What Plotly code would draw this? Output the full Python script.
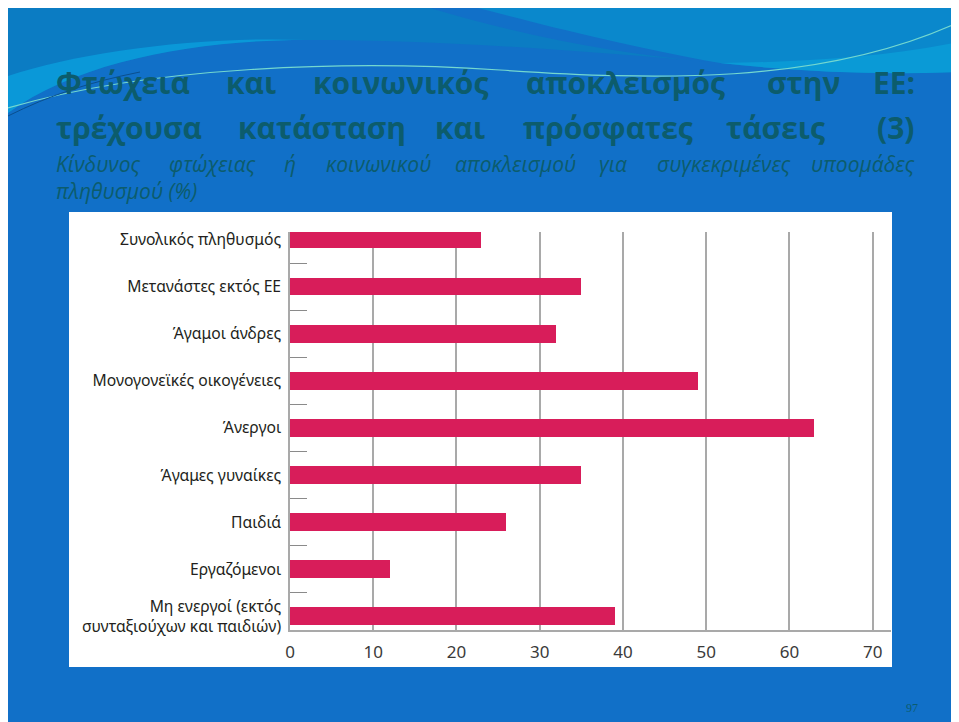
import plotly.graph_objects as go

# ---------------- data ----------------
categories = [
    "Συνολικός πληθυσμός",
    "Μετανάστες εκτός ΕΕ",
    "Άγαμοι άνδρες",
    "Μονογονεϊκές οικογένειες",
    "Άνεργοι",
    "Άγαμες γυναίκες",
    "Παιδιά",
    "Εργαζόμενοι",
    "Μη ενεργοί (εκτός<br>συνταξιούχων και παιδιών)",
]
values = [23, 35, 32, 49, 63, 35, 26, 12, 39]
x_ticks = [0, 10, 20, 30, 40, 50, 60, 70]

title_line1 = ["Φτώχεια", "και", "κοινωνικός", "αποκλεισμός", "στην", "ΕΕ:"]
title_line2 = ["τρέχουσα", "κατάσταση", "και", "πρόσφατες", "τάσεις", "(3)"]
sub_line1 = ["Κίνδυνος", "φτώχειας", "ή", "κοινωνικού", "αποκλεισμού", "για",
             "συγκεκριμένες", "υποομάδες"]
sub_line2 = "πληθυσμού (%)"
page_no = "97"

# ---------------- layout geometry ----------------
W, H = 959, 722
ML, MR, MT, MB = 282, 76, 224, 100
PW, PH = W - ML - MR, H - MT - MB
OFF = 8  # page body margin offset (screen -> figure)


def px(sx):
    return (sx - OFF - ML) / PW


def py(sy):
    return (H - MB - (sy - OFF)) / PH


def path(cmds):
    out = []
    for c in cmds:
        if isinstance(c, str):
            out.append(c)
        else:
            out.append(f"{px(c[0]):.5f},{py(c[1]):.5f}")
    return " ".join(out)


TEXT_COL = "#0C5C6C"
BAR_COL = "#D81D5A"
GRID_COL = "#A9A9A9"

fig = go.Figure(
    go.Bar(
        x=values,
        y=list(range(len(categories))),
        orientation="h",
        width=0.376,
        marker=dict(color=BAR_COL, line=dict(width=0)),
        hoverinfo="skip",
    )
)

shapes = []
# background decoration (wave)
shapes.append(dict(type="path", xref="paper", yref="paper", layer="below",
                   line=dict(width=0), fillcolor="#0B7CC3",
                   path=path(["M", (8, 8), "L", (430, 8), "C", (520, 35), (620, 55), (720, 63),
                              "C", (600, 52), (450, 40), (306, 40),
                              "C", (200, 40), (80, 60), (8, 113), "Z"])))
shapes.append(dict(type="path", xref="paper", yref="paper", layer="below",
                   line=dict(width=0), fillcolor="#0A98D8",
                   path=path(["M", (8, 113), "C", (80, 60), (200, 40), (306, 40),
                              "C", (200, 36), (80, 52), (8, 76), "Z"])))
shapes.append(dict(type="path", xref="paper", yref="paper", layer="below",
                   line=dict(width=0), fillcolor="#0A88CC",
                   path=path(["M", (478, 8), "L", (959, 8), "L", (959, 72),
                              "C", (880, 75), (800, 72), (720, 63),
                              "C", (620, 45), (545, 25), (478, 8), "Z"])))
shapes.append(dict(type="path", xref="paper", yref="paper", layer="below",
                   line=dict(width=0), fillcolor="#0A9AD6",
                   path=path(["M", (720, 63), "C", (800, 72), (880, 75), (959, 72),
                              "L", (959, 42), "C", (880, 58), (800, 62), (720, 63), "Z"])))
shapes.append(dict(type="path", xref="paper", yref="paper", layer="below",
                   line=dict(width=1.2, color="#74D8CF"),
                   path=path(["M", (8, 108), "C", (150, 66), (350, 60), (500, 70),
                              "C", (650, 80), (820, 86), (959, 22)])))
shapes.append(dict(type="path", xref="paper", yref="paper", layer="below",
                   line=dict(width=1, color="#0A4F8E"),
                   path=path(["M", (8, 116), "C", (50, 95), (90, 82), (140, 72)])))
# white chart panel
shapes.append(dict(type="rect", xref="paper", yref="paper", layer="below",
                   x0=px(69), x1=px(892), y0=py(667), y1=py(212),
                   fillcolor="white", line=dict(width=0)))

annotations = []


def add_word(w, sx, sy, anchor, size, bold, italic):
    annotations.append(dict(
        text=w, x=px(sx), y=py(sy), xref="paper", yref="paper",
        xanchor=anchor, yanchor="middle", showarrow=False,
        font=dict(family="Open Sans", size=size, color=TEXT_COL,
                  weight="bold" if bold else "normal",
                  style="italic" if italic else "normal")))


def word_line(words, sy, size, bold, italic, lefts_rights):
    for w, (anchor, sx) in zip(words, lefts_rights):
        add_word(w, sx, sy, anchor, size, bold, italic)


def est_width(word, size):
    narrow = set("ιίϊΐ()%|l!.,:;")
    wide = set("μωφψώΚΜΩΦ")
    total = 0.0
    for ch in word:
        if ch in narrow:
            total += 0.27
        elif ch in wide:
            total += 0.62
        else:
            total += 0.5
    return total * size


def justify(words, sy, size, bold, italic, x_left=54, x_right=917):
    widths = [est_width(w, size) for w in words]
    gap = (x_right - x_left - sum(widths)) / (len(words) - 1)
    x = x_left
    for i, (w, wd) in enumerate(zip(words, widths)):
        if i == len(words) - 1:
            add_word(w, x_right, sy, "right", size, bold, italic)
        else:
            add_word(w, x, sy, "left", size, bold, italic)
        x += wd + gap


word_line(title_line1, 82, 30, True, False,
          [("left", 54), ("center", 251), ("center", 400), ("center", 625),
           ("center", 803), ("right", 917)])
word_line(title_line2, 128, 30, True, False,
          [("left", 54), ("center", 322), ("center", 460), ("center", 608),
           ("center", 775), ("right", 917)])
justify(sub_line1, 164, 21, False, True)
word_line([sub_line2], 191, 21, False, True, [("left", 54)])

annotations.append(dict(text=page_no, x=px(912), y=py(708), xref="paper", yref="paper",
                        xanchor="center", yanchor="middle", showarrow=False,
                        font=dict(family="Liberation Serif", size=12, color=TEXT_COL)))

fig.update_layout(
    width=W, height=H,
    margin=dict(l=ML, r=MR, t=MT, b=MB, pad=0),
    paper_bgcolor="#1170C8",
    plot_bgcolor="white",
    showlegend=False,
    shapes=shapes,
    annotations=annotations,
    bargap=0,
)

fig.update_xaxes(
    range=[0, 72.2],
    tickvals=x_ticks,
    ticktext=[str(v) for v in x_ticks],
    showgrid=True, gridcolor=GRID_COL, gridwidth=1.5,
    zeroline=False,
    showline=True, linecolor=GRID_COL, linewidth=1.5,
    ticks="outside", ticklen=6, tickcolor="rgba(0,0,0,0)",
    tickfont=dict(family="Noto Sans", size=17, color="#3A3A3A"),
    fixedrange=True,
)

fig.update_yaxes(
    range=[8.29, -0.16],
    tickmode="array",
    tickvals=list(range(len(categories))),
    ticktext=categories,
    ticks="",
    showgrid=False, zeroline=False,
    showline=True, linecolor=GRID_COL, linewidth=1.5,
    tickfont=dict(family="Noto Sans", size=15.7, color="#231F20"),
    ticklabelstandoff=4,
    minor=dict(tickmode="linear", tick0=0.5, dtick=1, ticks="inside",
               ticklen=17, tickwidth=1, tickcolor="#8A8A8A", showgrid=False),
    fixedrange=True,
)

fig.write_html("out.html")
